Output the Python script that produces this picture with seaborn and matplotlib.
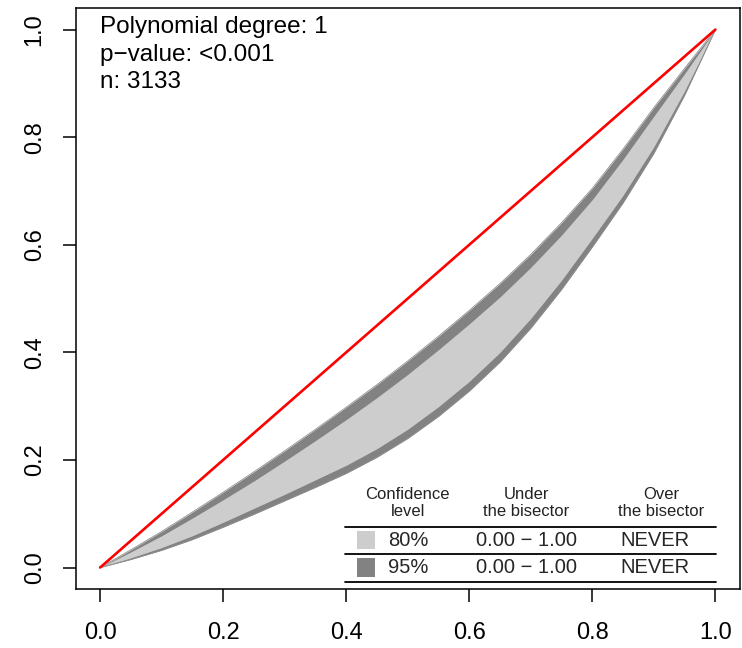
import numpy as np
import pandas as pd
import matplotlib
matplotlib.use("Agg")
import matplotlib.pyplot as plt
import seaborn as sns

# Cumulative share grid and confidence bands of the fitted curve
share = [0.00, 0.05, 0.10, 0.15, 0.20, 0.25, 0.30, 0.35, 0.40, 0.45, 0.50,
         0.55, 0.60, 0.65, 0.70, 0.75, 0.80, 0.85, 0.90, 0.95, 1.00]
upper95 = [0.0, 0.033, 0.067, 0.103, 0.140, 0.178, 0.217, 0.257, 0.298, 0.340, 0.384,
           0.430, 0.478, 0.528, 0.582, 0.641, 0.705, 0.778, 0.855, 0.928, 1.0]
lower95 = [0.0, 0.015, 0.032, 0.052, 0.075, 0.099, 0.124, 0.149, 0.175, 0.205, 0.240,
           0.281, 0.328, 0.382, 0.445, 0.517, 0.596, 0.678, 0.770, 0.878, 1.0]
upper80 = [0.0, 0.029, 0.059, 0.092, 0.126, 0.161, 0.198, 0.236, 0.275, 0.316, 0.359,
           0.405, 0.453, 0.503, 0.558, 0.618, 0.684, 0.759, 0.839, 0.918, 1.0]
lower80 = [0.0, 0.018, 0.037, 0.059, 0.084, 0.110, 0.136, 0.163, 0.190, 0.221, 0.257,
           0.299, 0.346, 0.400, 0.463, 0.534, 0.612, 0.692, 0.782, 0.886, 1.0]

bisector_x = [0.0, 1.0]
bisector_y = [0.0, 1.0]

ticks = [0.0, 0.2, 0.4, 0.6, 0.8, 1.0]
tick_labels = ["0.0", "0.2", "0.4", "0.6", "0.8", "1.0"]

info_lines = ["Polynomial degree: 1", "p\u2212value: <0.001", "n: 3133"]

table_header = [("Confidence\nlevel", 0.5), ("Under\nthe bisector", 0.693), ("Over\nthe bisector", 0.912)]
conf_levels = ["80%", "95%"]
under_range = ["0.00 \u2212 1.00", "0.00 \u2212 1.00"]
over_range = ["NEVER", "NEVER"]

col80 = "#CDCDCD"
col95 = "#828282"

sns.set_style("ticks")
plt.rcParams["font.family"] = ["Liberation Sans", "DejaVu Sans"]

fig = plt.figure(figsize=(7.42, 6.48), dpi=100)
ax = fig.add_axes([0.1018, 0.0910, 0.8955, 0.8966])

bands = pd.DataFrame({"share": share, "upper95": upper95, "lower95": lower95,
                      "upper80": upper80, "lower80": lower80})

ax.fill_between(bands["share"], bands["lower95"], bands["upper95"],
                color=col95, linewidth=0, zorder=1)
ax.fill_between(bands["share"], bands["lower80"], bands["upper80"],
                color=col80, linewidth=0, zorder=2)
for col in ["upper95", "lower95"]:
    sns.lineplot(data=bands, x="share", y=col, ax=ax, color="#8e8e8e",
                 linewidth=0.6, zorder=3)

line_df = pd.DataFrame({"x": bisector_x, "y": bisector_y})
sns.lineplot(data=line_df, x="x", y="y", ax=ax, color="#ff0000",
             linewidth=1.9, zorder=4)

ax.set_xlim(-0.04, 1.04)
ax.set_ylim(-0.04, 1.04)
ax.set_xticks(ticks)
ax.set_xticklabels(tick_labels)
ax.set_yticks(ticks)
ax.set_yticklabels(tick_labels, rotation=90, va="center")
ax.set_xlabel("")
ax.set_ylabel("")
ax.tick_params(axis="both", length=9.5, width=1.1, color="black",
               labelsize=17, labelcolor="black")
ax.tick_params(axis="x", pad=14)
ax.tick_params(axis="y", pad=12)
for sp in ax.spines.values():
    sp.set_visible(True)
    sp.set_linewidth(1.1)
    sp.set_color("black")

# Model summary in the top-left corner
for i, txt in enumerate(info_lines):
    ax.text(0.0, 1.004 - i * 0.0505, txt, fontsize=17.5, ha="left", va="center",
            color="black")

# Table of crossing ranges
for txt, xc in table_header:
    ax.text(xc, 0.120, txt, fontsize=12, ha="center", va="center",
            linespacing=1.15, color="#222222")
for yl in [0.0745, 0.026, -0.026]:
    ax.plot([0.398, 1.0016], [yl, yl], color="black", linewidth=1.3, zorder=5)

row_y = [0.0503, 0.0]
sw_cols = [col80, col95]
for i in range(2):
    ax.add_patch(plt.Rectangle((0.417, row_y[i] - 0.0168), 0.029, 0.0336,
                               facecolor=sw_cols[i], edgecolor="none", zorder=5))
    ax.text(0.4675, row_y[i], conf_levels[i], fontsize=14.5, ha="left", va="center")
    ax.text(0.693, row_y[i], under_range[i], fontsize=14.5, ha="center", va="center")
    ax.text(0.901, row_y[i], over_range[i], fontsize=14.5, ha="center", va="center")

fig.savefig("out.png", dpi=100)
